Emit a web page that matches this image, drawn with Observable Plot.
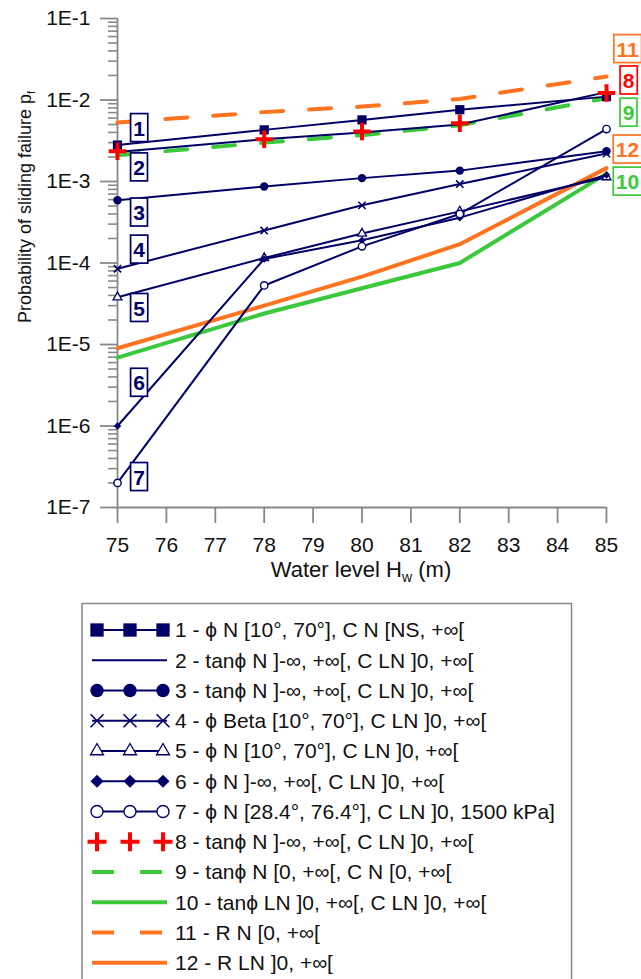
<!DOCTYPE html>
<html><head><meta charset="utf-8">
<script src="https://cdn.jsdelivr.net/npm/d3@7"></script>
<script src="https://cdn.jsdelivr.net/npm/@observablehq/plot@0.6"></script>
<style>
html,body{margin:0;padding:0;background:#fff}
body{width:641px;height:979px;overflow:hidden;position:relative;font-family:"Liberation Sans",Arial,sans-serif}
#chart{position:absolute;left:0;top:0}
#legend{position:absolute;left:0;top:0}
</style></head>
<body><div id="chart"></div><div id="legend"></div>
<script>
// ---------- data ----------
const waterLevels = [75, 78, 80, 82, 85];
const pf1  = [2.8e-3, 4.3e-3, 5.7e-3, 7.6e-3, 1.1e-2];
const pf2  = [2.3e-3, 3.3e-3, 4.0e-3, 5.0e-3, 1.25e-2];
const pf3  = [5.9e-4, 8.7e-4, 1.1e-3, 1.36e-3, 2.35e-3];
const pf4  = [8.5e-5, 2.5e-4, 5.1e-4, 9.3e-4, 2.2e-3];
const pf5  = [3.8e-5, 1.15e-4, 2.3e-4, 4.3e-4, 1.13e-3];
const pf6  = [1.0e-6, 1.12e-4, 1.9e-4, 3.6e-4, 1.2e-3];
const pf7  = [2.0e-7, 5.3e-5, 1.6e-4, 4.0e-4, 4.4e-3];
const pf8  = [2.35e-3, 3.3e-3, 4.1e-3, 5.2e-3, 1.22e-2];
const pf9  = [2.1e-3, 3.0e-3, 3.7e-3, 4.9e-3, 1.05e-2];
const pf10 = [6.9e-6, 2.4e-5, 4.9e-5, 1.0e-4, 1.25e-3];
const pf11 = [5.3e-3, 7.1e-3, 8.3e-3, 1.03e-2, 1.94e-2];
const pf12 = [9.0e-6, 3.0e-5, 6.8e-5, 1.7e-4, 1.46e-3];
const seriesValues = [pf1, pf2, pf3, pf4, pf5, pf6, pf7, pf8, pf9, pf10, pf11, pf12];
const seriesLabels = [
  "1 - \u03D5 N [10°, 70°], C N [NS, +\u221E[",
  "2 - tan\u03D5 N ]-\u221E, +\u221E[, C LN ]0, +\u221E[",
  "3 - tan\u03D5 N ]-\u221E, +\u221E[, C LN ]0, +\u221E[",
  "4 - \u03D5 Beta [10°, 70°], C LN ]0, +\u221E[",
  "5 - \u03D5 N [10°, 70°], C LN ]0, +\u221E[",
  "6 - \u03D5 N ]-\u221E, +\u221E[, C LN ]0, +\u221E[",
  "7 - \u03D5 N [28.4°, 76.4°], C LN ]0, 1500 kPa]",
  "8 - tan\u03D5 N ]-\u221E, +\u221E[, C LN ]0, +\u221E[",
  "9 - tan\u03D5 N [0, +\u221E[, C N [0, +\u221E[",
  "10 - tan\u03D5 LN ]0, +\u221E[, C LN ]0, +\u221E[",
  "11 - R N [0, +\u221E[",
  "12 - R LN ]0, +\u221E["
];
const xTicks = [75, 76, 77, 78, 79, 80, 81, 82, 83, 84, 85];
const yMajorTicks = [1e-7, 1e-6, 1e-5, 1e-4, 1e-3, 1e-2, 1e-1];
const yTickLabels = ["1E-7", "1E-6", "1E-5", "1E-4", "1E-3", "1E-2", "1E-1"];
const xLabel = ["Water level H", "w", " (m)"];
const yLabel = ["Probability of sliding failure p", "f"];
// boxed curve labels (anchored in data units)
const boxLabelText = ["1", "2", "3", "4", "5", "6", "7", "11", "8", "9", "12", "10"];
const boxLabelSeries = [1, 2, 3, 4, 5, 6, 7, 11, 8, 9, 12, 10];
const boxLabelX = [75.44, 75.44, 75.44, 75.44, 75.44, 75.44, 75.44, 85.43, 85.45, 85.45, 85.43, 85.43];
const boxLabelY = [4.4e-3, 1.45e-3, 4.05e-4, 1.42e-4, 2.73e-5, 3.3e-6, 2.3e-7, 4.1e-2, 1.69e-2, 6.8e-3, 2.4e-3, 9.7e-4];

// ---------- styles ----------
const NAVY = "#000066", GREEN = "#3cc83c", ORANGE = "#ff7420", RED = "#ff0000", AXIS = "#888888", INK = "#111111";
const FONT = '"Liberation Sans", Arial, sans-serif';
const DASH = "22,26";
const styles = {
  1:  {line: {stroke: NAVY, w: 2}, mark: {symbol: "square", fill: NAVY, stroke: "none", r: 5.2, sw: 0, lsize: 177}},
  2:  {line: {stroke: NAVY, w: 2}, mark: null},
  3:  {line: {stroke: NAVY, w: 2}, mark: {symbol: "circle", fill: NAVY, stroke: "none", r: 4.2, sw: 0, lsize: 141}},
  4:  {line: {stroke: NAVY, w: 2}, mark: {symbol: "times", fill: "none", stroke: NAVY, r: 3.4, sw: 1.6, lsize: 112}},
  5:  {line: {stroke: NAVY, w: 2}, mark: {symbol: "triangle", fill: "white", stroke: NAVY, r: 3.3, sw: 1.3, lsize: 73}},
  6:  {line: {stroke: NAVY, w: 2}, mark: {symbol: "diamond2", fill: NAVY, stroke: "none", r: 3.4, sw: 0, lsize: 108}},
  7:  {line: {stroke: NAVY, w: 2}, mark: {symbol: "circle", fill: "white", stroke: NAVY, r: 3.7, sw: 1.4, lsize: 113}},
  8:  {line: null, mark: {symbol: "plus", fill: "none", stroke: RED, r: 5.7, sw: 4, lsize: 119}},
  9:  {line: {stroke: GREEN, w: 4, dash: DASH}, mark: null},
  10: {line: {stroke: GREEN, w: 4}, mark: null},
  11: {line: {stroke: ORANGE, w: 4, dash: DASH}, mark: null},
  12: {line: {stroke: ORANGE, w: 4}, mark: null}
};
const boxColor = {1: NAVY, 2: NAVY, 3: NAVY, 4: NAVY, 5: NAVY, 6: NAVY, 7: NAVY, 8: RED, 9: GREEN, 10: GREEN, 11: ORANGE, 12: ORANGE};

// ---------- tables ----------
const rowsFor = id => waterLevels.map((x, j) => ({id, x, y: seriesValues[id - 1][j]}));
const boxLabels = boxLabelText.map((t, i) => ({t, x: boxLabelX[i], y: boxLabelY[i], c: boxColor[boxLabelSeries[i]]}));
const yMinorTicks = [];
yMajorTicks.slice(0, -1).forEach(p => { for (let k = 2; k <= 9; k++) yMinorTicks.push(p * k); });

const lineOrder = [10, 12, 9, 11, 1, 2, 3, 4, 5, 6, 7];
const markOrder = [1, 3, 4, 5, 6, 7, 8];

const marks = [
  Plot.axisY(yMinorTicks, {tickSize: 9, tickFormat: () => "", stroke: AXIS, strokeWidth: 1.6, label: null}),
  Plot.axisY(yMajorTicks, {tickSize: 17, tickPadding: 10, fontSize: 21, fill: INK, stroke: AXIS, strokeWidth: 1.8,
    tickFormat: d => yTickLabels[yMajorTicks.indexOf(d)], label: null, fontFamily: FONT}),
  Plot.axisX(xTicks, {tickSize: 16, tickPadding: 14, fontSize: 21, fill: INK, stroke: AXIS, strokeWidth: 1.8,
    tickFormat: d => String(d), label: null, fontFamily: FONT}),
  Plot.ruleX([75], {stroke: AXIS, strokeWidth: 1.8}),
  Plot.ruleY([1e-7], {stroke: AXIS, strokeWidth: 1.8})
];
for (const id of lineOrder) {
  const L = styles[id].line;
  marks.push(Plot.line(rowsFor(id), {x: "x", y: "y", stroke: L.stroke, strokeWidth: L.w,
    strokeDasharray: L.dash || null, strokeLinejoin: "round"}));
}
for (const id of markOrder) {
  const M = styles[id].mark;
  marks.push(Plot.dot(rowsFor(id), {x: "x", y: "y", symbol: M.symbol, r: M.r, fill: M.fill, stroke: M.stroke, strokeWidth: M.sw}));
}
marks.push(Plot.text(boxLabels, {x: "x", y: "y", text: "t", fill: "c", fontSize: 21, fontWeight: "bold",
  fontFamily: FONT}));

const chart = Plot.plot({
  width: 641, height: 595,
  marginLeft: 117, marginRight: 35, marginTop: 18, marginBottom: 88,
  style: {fontFamily: FONT, background: "transparent", overflow: "visible"},
  x: {domain: [75, 85], axis: null},
  y: {type: "log", domain: [1e-7, 1e-1], axis: null},
  color: {type: "identity"},
  marks
});
document.getElementById("chart").append(chart);

// boxes round curve labels (sized from each label's own bounding box)
const labelTexts = Array.from(chart.querySelectorAll("text"))
  .filter(t => boxLabelText.includes(t.textContent) && t.closest("g") && t.closest("g").getAttribute("aria-label") === "text");
labelTexts.forEach(t => {
  const bb = t.getBBox();
  const cy = bb.y + bb.height * 0.47;
  const r = document.createElementNS("http://www.w3.org/2000/svg", "rect");
  r.setAttribute("x", bb.x - 2.6);
  r.setAttribute("y", cy - 14);
  r.setAttribute("width", bb.width + 5.2);
  r.setAttribute("height", 28);
  r.setAttribute("fill", "white");
  r.setAttribute("stroke", t.getAttribute("fill") || getComputedStyle(t).fill);
  r.setAttribute("stroke-width", 1.7);
  if (t.getAttribute("transform")) r.setAttribute("transform", t.getAttribute("transform"));
  t.parentNode.insertBefore(r, t);
});

// axis titles
const cs = d3.select(chart);
const xt = cs.append("text").attr("x", 361).attr("y", 577).attr("text-anchor", "middle")
  .attr("font-size", 22).attr("font-family", FONT).attr("fill", INK);
xt.append("tspan").text(xLabel[0]);
xt.append("tspan").attr("font-size", 14).attr("dy", 5).text(xLabel[1]);
xt.append("tspan").attr("dy", -5).text(xLabel[2]);
const yt = cs.append("text").attr("transform", "translate(30.5,207) rotate(-90)").attr("text-anchor", "middle")
  .attr("font-size", 18).attr("font-family", FONT).attr("fill", INK);
yt.append("tspan").text(yLabel[0]);
yt.append("tspan").attr("font-size", 11).attr("dy", 4).text(yLabel[1]);

// ---------- legend ----------
const leg = d3.select("#legend").append("svg").attr("width", 641).attr("height", 979);
leg.append("rect").attr("x", 82).attr("y", 603.5).attr("width", 489.5).attr("height", 400)
  .attr("fill", "white").attr("stroke", AXIS).attr("stroke-width", 1.5);
const rowY0 = 630, rowDy = 30.25, sx0 = 92, sx1 = 167, markXs = [97, 130, 163], textX = 175;
seriesLabels.forEach((lab, i) => {
  const id = i + 1, y = rowY0 + i * rowDy, st = styles[id];
  if (st.line) {
    leg.append("line").attr("x1", sx0).attr("x2", sx1).attr("y1", y).attr("y2", y)
      .attr("stroke", st.line.stroke).attr("stroke-width", st.line.w)
      .attr("stroke-dasharray", st.line.dash || null);
  }
  if (st.mark) {
    const sym = {square: d3.symbolSquare, circle: d3.symbolCircle, times: d3.symbolTimes, triangle: d3.symbolTriangle,
      diamond2: d3.symbolDiamond2, plus: d3.symbolPlus}[st.mark.symbol];
    const p = d3.symbol(sym, st.mark.lsize)();
    markXs.forEach(mx => leg.append("path").attr("d", p).attr("transform", `translate(${mx},${y})`)
      .attr("fill", st.mark.fill).attr("stroke", st.mark.stroke).attr("stroke-width", st.mark.sw || null));
  }
  leg.append("text").attr("x", textX).attr("y", y + 7.3).attr("font-size", 21).attr("font-family", FONT)
    .attr("fill", INK).text(lab);
});
</script>
</body></html>
